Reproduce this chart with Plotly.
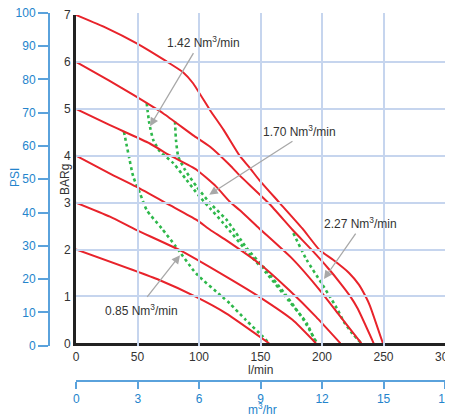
import plotly.graph_objects as go

# ---- data ----
# red pressure curves: flow (l/min) vs pressure (BARg)
c7_x = [0, 25, 49, 73, 87, 95, 109, 120, 133, 141, 149, 166, 184, 198, 209, 222, 230, 236, 239, 249.5]
c7_y = [7, 6.72, 6.4, 6.02, 5.78, 5.55, 4.97, 4.55, 4.0, 3.75, 3.48, 2.98, 2.45, 1.99, 1.78, 1.5, 1.25, 0.97, 0.8, 0]
c6_x = [0, 27, 47, 71, 95, 109, 125, 133, 157, 176, 192, 205, 215, 223, 229, 242]
c6_y = [6, 5.6, 5.29, 4.9, 4.44, 4.19, 3.8, 3.58, 2.98, 2.42, 1.98, 1.6, 1.28, 1.0, 0.74, 0]
c5_x = [0, 27.6, 60, 76, 98, 114, 125, 133, 149, 176, 198, 214, 232]
c5_y = [5, 4.65, 4.26, 4.01, 3.7, 3.34, 3.02, 2.84, 2.45, 1.8, 1.14, 0.6, 0]
c4_x = [0, 27.6, 49, 76, 98, 109, 122, 149, 173, 195, 215]
c4_y = [4, 3.62, 3.34, 2.95, 2.63, 2.42, 2.2, 1.7, 1.14, 0.57, 0]
c3_x = [0, 27.6, 48.8, 84, 122, 149, 176, 195]
c3_y = [3, 2.7, 2.42, 1.99, 1.42, 0.99, 0.5, 0]
c2_x = [0, 67.7, 97.6, 122, 157]
c2_y = [2, 1.35, 0.99, 0.64, 0]

# green dotted air-consumption curves
g085_x = [39, 42.5, 46.6, 52, 57.5, 69.7, 81.3, 97.6, 119, 125, 138, 152, 157]
g085_y = [4.51, 4.05, 3.55, 3.2, 2.84, 2.45, 2.06, 1.49, 0.99, 0.85, 0.5, 0.14, 0]
g142_x = [57.5, 59.6, 62.9, 68.3, 79.1, 90, 99.5, 108.9, 119.8, 141.5, 155, 172.6, 187.5, 195]
g142_y = [5.12, 4.69, 4.33, 4.09, 3.84, 3.48, 3.16, 2.88, 2.56, 1.88, 1.49, 0.92, 0.43, 0]
g170_x = [80.5, 81.3, 83.2, 88.6, 98.1, 108.9, 122.5, 138.8, 152.3, 170, 185, 196]
g170_y = [4.73, 4.33, 3.98, 3.7, 3.34, 2.99, 2.63, 2.03, 1.63, 1.05, 0.5, 0]
g227_x = [176.7, 187.5, 199.7, 206.5, 212, 218, 225, 232]
g227_y = [2.35, 1.78, 1.28, 0.99, 0.75, 0.45, 0.2, 0]

# labels
labels = ["1.42 Nm<sup>3</sup>/min", "1.70 Nm<sup>3</sup>/min", "2.27 Nm<sup>3</sup>/min", "0.85 Nm<sup>3</sup>/min"]
label_pos = [(104, 6.43), (181.3, 4.52), (231.3, 2.56), (53.5, 0.71)]
arrow_tail = [(96.2, 6.22), (177.2, 4.33), (228.2, 2.37), (56.9, 0.96)]
arrow_head = [(60.2, 4.63), (108.3, 3.17), (201.6, 1.37), (84.6, 1.88)]

bar_ticks = [0, 1, 2, 3, 4, 5, 6, 7]
lpm_ticks = [0, 50, 100, 150, 200, 250, 300]
psi_ticks = [0, 10, 20, 30, 40, 50, 60, 70, 80, 90, 100]
m3h_ticks = [0, 3, 6, 9, 12, 15, 18]

RED = "#e8232b"
GREEN = "#2eb84b"
BLUE_TXT = "#2484cc"
BLUE_LINE = "#5aa2dc"
GRID = "#c6d5ee"
FONT = "Liberation Sans, Arial, sans-serif"

fig = go.Figure()

for gx, gy in [(g085_x, g085_y), (g142_x, g142_y), (g170_x, g170_y), (g227_x, g227_y)]:
    fig.add_trace(go.Scatter(x=gx, y=gy, mode="lines",
                             line=dict(color=GREEN, width=2.6, dash="3px,3px", shape="spline", smoothing=0.6),
                             hoverinfo="skip"))

for cx, cy in [(c7_x, c7_y), (c6_x, c6_y), (c5_x, c5_y), (c4_x, c4_y), (c3_x, c3_y), (c2_x, c2_y)]:
    fig.add_trace(go.Scatter(x=cx, y=cy, mode="lines",
                             line=dict(color=RED, width=2, shape="spline", smoothing=0.5),
                             hoverinfo="skip"))

# empty traces that bind the secondary (PSI and m3/hr) axes
fig.add_trace(go.Scatter(x=[None], y=[None], xaxis="x", yaxis="y2", showlegend=False, hoverinfo="skip"))
fig.add_trace(go.Scatter(x=[None], y=[None], xaxis="x2", yaxis="y", showlegend=False, hoverinfo="skip"))

# page offset of the plot div (default body margin)
OFF = 8
ML, MR, MT, MB = 36, 8, 2, 20
PW = 453 - ML - MR
PH = 417 - MT - MB


def px_x(p):
    """page pixel x -> paper fraction"""
    return (p - OFF - ML) / PW


def px_y(p):
    """page pixel y -> paper fraction"""
    return (417 - MB - (p - OFF)) / PH


fig.update_layout(
    width=453, height=417, autosize=False,
    margin=dict(l=ML, r=MR, t=MT, b=MB, pad=0),
    paper_bgcolor="white", plot_bgcolor="rgba(0,0,0,0)",
    showlegend=False,
    font=dict(family=FONT, size=12, color="#333"),
    xaxis=dict(domain=[px_x(76), px_x(445)], range=[0, 300], tickvals=lpm_ticks,
               showgrid=True, gridcolor=GRID, gridwidth=1.5, zeroline=False,
               showline=True, linecolor="#222", linewidth=3, ticks="", automargin=False,
               ticklabeloverflow="allow",
               tickfont=dict(size=12, color="#333"), anchor="y"),
    yaxis=dict(domain=[px_y(343.3), px_y(15)], range=[0, 7], tickvals=bar_ticks,
               showgrid=True, gridcolor=GRID, gridwidth=1.5, zeroline=False,
               showline=True, linecolor="#222", linewidth=3, ticks="", automargin=False,
               ticklabeloverflow="allow",
               tickfont=dict(size=12, color="#333"), anchor="x"),
    yaxis2=dict(domain=[px_y(345.7), px_y(12.7)], range=[0, 100], tickvals=psi_ticks,
                anchor="free", position=px_x(49), side="left", automargin=False,
                ticklabeloverflow="allow",
                showgrid=False, zeroline=False, showline=True, linecolor=BLUE_LINE, linewidth=2,
                ticks="outside", ticklen=10, tickwidth=1.5, tickcolor=BLUE_LINE,
                tickfont=dict(size=12, color=BLUE_TXT)),
    xaxis2=dict(domain=[px_x(76.3), px_x(445)], range=[0, 18], tickvals=m3h_ticks,
                anchor="free", position=px_y(381), side="bottom", automargin=False,
                ticklabeloverflow="allow",
                showgrid=False, zeroline=False, showline=True, linecolor=BLUE_LINE, linewidth=2,
                ticks="outside", ticklen=7, tickwidth=1.5, tickcolor=BLUE_LINE,
                tickfont=dict(size=12, color=BLUE_TXT)),
)

annotations = []
for txt, (lx, ly) in zip(labels, label_pos):
    annotations.append(dict(x=lx, y=ly, xref="x", yref="y", text=txt, showarrow=False,
                            xanchor="center", yanchor="middle",
                            font=dict(size=12, color="#333")))
for (tx, ty), (hx, hy) in zip(arrow_tail, arrow_head):
    annotations.append(dict(x=hx, y=hy, xref="x", yref="y", ax=tx, ay=ty, axref="x", ayref="y",
                            text="", showarrow=True, arrowhead=2, arrowsize=1.3, arrowwidth=1.3,
                            arrowcolor="#a8a8a8"))

annotations += [
    dict(x=px_x(65), y=px_y(180), xref="paper", yref="paper", text="BARg", textangle=-90,
         xanchor="center", yanchor="middle",
         showarrow=False, font=dict(size=12, color="#333")),
    dict(x=px_x(15), y=px_y(178), xref="paper", yref="paper", text="PSI", textangle=-90,
         xanchor="center", yanchor="middle",
         showarrow=False, font=dict(size=12, color=BLUE_TXT)),
    dict(x=px_x(261), y=px_y(370), xref="paper", yref="paper", text="l/min",
         xanchor="center", yanchor="middle",
         showarrow=False, font=dict(size=12, color="#333")),
    dict(x=px_x(262), y=px_y(409), xref="paper", yref="paper", text="m<sup>3</sup>/hr",
         xanchor="center", yanchor="middle",
         showarrow=False, font=dict(size=12, color=BLUE_TXT)),
]
fig.update_layout(annotations=annotations)

fig.write_html("out.html")
